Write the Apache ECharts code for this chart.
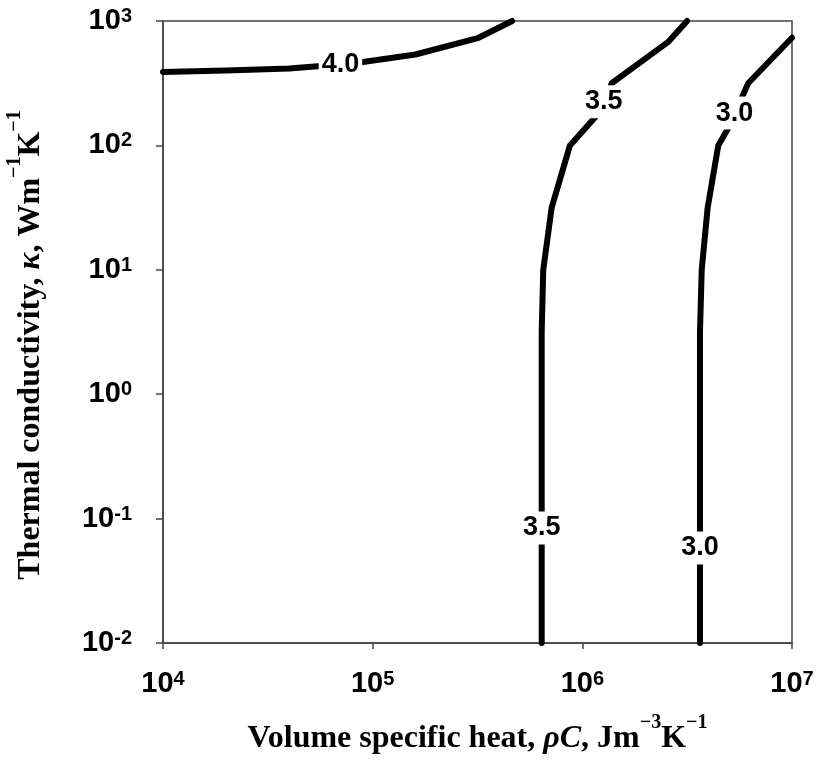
<!DOCTYPE html>
<html>
<head>
<meta charset="utf-8">
<script src="https://cdn.jsdelivr.net/npm/echarts@6/dist/echarts.min.js"></script>
<style>
  html, body { margin: 0; padding: 0; background: #fff; }
  #chart { width: 819px; height: 764px; }
</style>
</head>
<body>
<div id="chart"></div>
<script>
// Decade ticks on both logarithmic axes
const xTicks = [1e4, 1e5, 1e6, 1e7];
const yTicks = [1e-2, 1e-1, 1e0, 1e1, 1e2, 1e3];

// Contour levels
const levels = [4.0, 3.5, 3.0];

// Contour vertices [volume specific heat, thermal conductivity]
const contour40 = [[1e4, 389], [2e4, 400], [4e4, 415], [8e4, 455], [1.6e5, 538], [3.2e5, 733], [4.63e5, 1000]];
const contour35 = [[6.4e5, 0.01], [6.4e5, 3.16], [6.51e5, 10], [7.14e5, 31.6], [8.73e5, 100], [1.26e6, 200], [1.38e6, 316], [2.56e6, 676], [3.16e6, 1000]];
const contour30 = [[3.64e6, 0.01], [3.64e6, 3.16], [3.71e6, 10], [3.96e6, 31.6], [4.45e6, 100], [5.01e6, 141], [6.18e6, 316], [1e7, 733]];

// Points where each contour carries its level label
const labels40 = [[7.02e4, 447]];
const labels35 = [[1.265e6, 224], [6.4e5, 0.0841]];
const labels30 = [[5.32e6, 182], [3.64e6, 0.0581]];

const SANS = 'Liberation Sans';
const SERIF = 'Liberation Serif';

const expLabel = v => '{b|10}{s|' + Math.round(Math.log10(v)) + '}';
const tickRich = {
  b: { fontFamily: SANS, fontWeight: 'bold', fontSize: 29, lineHeight: 29, color: '#000' },
  s: { fontFamily: SANS, fontWeight: 'bold', fontSize: 20, lineHeight: 19, verticalAlign: 'top', color: '#000' }
};
const titleRich = {
  t: { fontFamily: SERIF, fontWeight: 'bold', fontSize: 32, lineHeight: 52, color: '#000' },
  i: { fontFamily: SERIF, fontWeight: 'bold', fontStyle: 'italic', fontSize: 32, lineHeight: 52, color: '#000' },
  s: { fontFamily: SERIF, fontWeight: 'bold', fontSize: 20, lineHeight: 16, verticalAlign: 'top', color: '#000' }
};

const axisColor = '#444';

function contourSeries(level, pts) {
  return {
    type: 'line',
    name: level.toFixed(1),
    data: pts,
    symbol: 'none',
    showSymbol: false,
    clip: false,
    silent: true,
    z: 2,
    lineStyle: { color: '#000', width: 6, cap: 'round', join: 'round' }
  };
}

function labelSeries(level, pts) {
  return {
    type: 'scatter',
    data: pts,
    symbolSize: 1,
    itemStyle: { color: 'rgba(0,0,0,0)', opacity: 1 },
    silent: true,
    clip: false,
    z: 5,
    label: {
      show: true,
      position: 'inside',
      formatter: () => level.toFixed(1),
      fontFamily: SANS,
      fontWeight: 'bold',
      fontSize: 27,
      color: '#000',
      opacity: 1,
      backgroundColor: '#fff',
      padding: [3, 3]
    }
  };
}

const chart = echarts.init(document.getElementById('chart'), null, { renderer: 'canvas' });
chart.setOption({
  animation: false,
  backgroundColor: '#fff',
  grid: {
    left: 163, right: 27, top: 21, bottom: 121,
    show: true, borderColor: axisColor, borderWidth: 1.5,
    containLabel: false, outerBoundsMode: 'none'
  },
  xAxis: {
    type: 'log', logBase: 10,
    min: xTicks[0], max: xTicks[xTicks.length - 1],
    splitLine: { show: false },
    minorTick: { show: false },
    axisLine: { show: true, lineStyle: { color: axisColor, width: 1.5 } },
    axisTick: { show: true, inside: false, length: 6, lineStyle: { color: axisColor, width: 1.5 } },
    axisLabel: { show: true, margin: 26, showMinLabel: true, showMaxLabel: true, formatter: expLabel, rich: tickRich },
    name: '{t|Volume specific heat, }{i|ρC}{t|, Jm}{s|−3}{t|K}{s|−1}',
    nameLocation: 'middle',
    nameGap: 70,
    nameTextStyle: { rich: titleRich }
  },
  yAxis: {
    type: 'log', logBase: 10,
    min: yTicks[0], max: yTicks[yTicks.length - 1],
    splitLine: { show: false },
    minorTick: { show: false },
    axisLine: { show: true, lineStyle: { color: axisColor, width: 1.5 } },
    axisTick: { show: true, inside: false, length: 7, lineStyle: { color: axisColor, width: 1.5 } },
    axisLabel: { show: true, margin: 31, showMinLabel: true, showMaxLabel: true, formatter: expLabel, rich: tickRich },
    name: '{t|Thermal conductivity, }{i|κ}{t|, Wm}{s|−1}{t|K}{s|−1}',
    nameLocation: 'middle',
    nameGap: 106,
    nameTextStyle: { padding: [0, 26, 0, 0], rich: titleRich }
  },
  series: [
    contourSeries(levels[0], contour40),
    contourSeries(levels[1], contour35),
    contourSeries(levels[2], contour30),
    labelSeries(levels[0], labels40),
    labelSeries(levels[1], labels35),
    labelSeries(levels[2], labels30)
  ]
});
</script>
</body>
</html>
